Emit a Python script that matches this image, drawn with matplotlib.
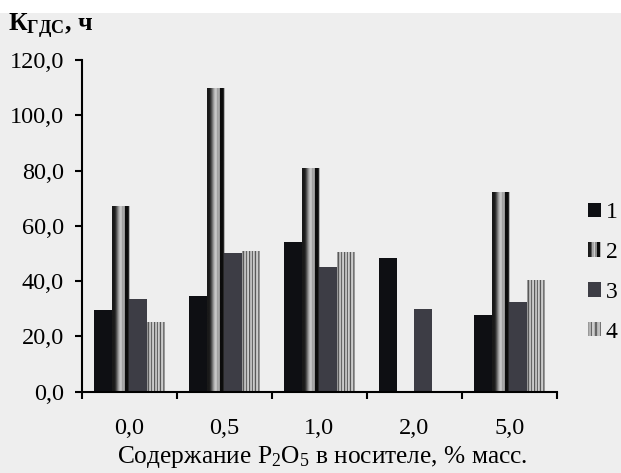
import numpy as np
import matplotlib
matplotlib.use("Agg")
import matplotlib.pyplot as plt
from matplotlib.patches import Rectangle
from matplotlib.legend_handler import HandlerBase
from matplotlib.ticker import FixedLocator, FuncFormatter

plt.rcParams['font.family'] = ['Liberation Serif', 'DejaVu Serif']
plt.rcParams['mathtext.fontset'] = 'custom'
plt.rcParams['mathtext.rm'] = 'Liberation Serif'
plt.rcParams['mathtext.it'] = 'Liberation Serif:italic'
plt.rcParams['mathtext.bf'] = 'Liberation Serif:bold'

# P2O5 content on the support, % wt.
categories = ["0,0", "0,5", "1,0", "2,0", "5,0"]
series_names = ["1", "2", "3", "4"]
s1 = [29.5, 34.6, 54.2, 48.2, 27.8]
s2 = [67.3, 109.7, 80.8, 0.0, 72.3]
s3 = [33.4, 50.0, 45.2, 29.9, 32.5]
s4 = [25.1, 51.0, 50.4, 0.0, 40.5]
series = [s1, s2, s3, s4]

# fill styles: plain colour or a vertical stripe profile (0 = black, 1 = white)
solid = {0: '#0e0f13', 2: '#3d3d45'}
stripes = {
    1: [0.10, 0.10, 0.12, 0.2, 0.35, 0.5, 0.65, 0.75, 0.8, 0.7, 0.55, 0.85,
        0.05, 0.05, 0.05, 0.1, 0.7],
    3: [0.6, 0.35, 0.7, 0.75, 0.4, 0.75, 0.8, 0.35, 0.7, 0.75, 0.4, 0.8,
        0.7, 0.35, 0.75, 0.8, 0.45, 0.6],
}

bg = '#eeeeee'
fig = plt.figure(figsize=(6.21, 4.73), dpi=100, facecolor=bg)
fig.patches.append(Rectangle((0, 1 - 13 / 473), 1, 13 / 473, transform=fig.transFigure,
                             facecolor='white', edgecolor='none', zorder=0))
ax = fig.add_axes([82 / 621, 1 - 391.7 / 473, (556.7 - 82) / 621, (391.7 - 60) / 473])
ax.set_facecolor(bg)

x = np.arange(len(categories))
w = 0.185
for i, vals in enumerate(series):
    pos = x + (i - 1.5) * w
    if i in solid:
        ax.bar(pos, vals, width=w, color=solid[i], edgecolor='none', zorder=2)
    else:
        bars = ax.bar(pos, vals, width=w, facecolor='none', edgecolor='none', zorder=2)
        prof = np.array(stripes[i])[None, :]
        for b in bars:
            if b.get_height() <= 0:
                continue
            im = ax.imshow(prof, cmap='gray', vmin=0, vmax=1, aspect='auto',
                           interpolation='bilinear', zorder=2,
                           extent=[b.get_x(), b.get_x() + b.get_width(), 0, b.get_height()])
            im.set_clip_path(b)

ax.set_xlim(-0.5, len(categories) - 0.5)
ax.set_ylim(0, 120)

for s in ['top', 'right']:
    ax.spines[s].set_visible(False)
for s in ['left', 'bottom']:
    ax.spines[s].set_linewidth(1.5)

ax.set_yticks(np.arange(0, 121, 20))
ax.yaxis.set_major_formatter(FuncFormatter(lambda v, p: f"{v:.1f}".replace('.', ',')))
ax.tick_params(axis='y', direction='out', length=5, width=1.5, pad=8, labelsize=17.5)

# ticks between the groups, labels under the groups
ax.xaxis.set_major_locator(FixedLocator(np.arange(-0.5, len(categories), 1.0)))
ax.xaxis.set_minor_locator(FixedLocator(x))
ax.set_xticklabels([], minor=False)
ax.set_xticklabels(categories, minor=True)
ax.tick_params(axis='x', which='major', direction='out', length=5, width=1.5)
ax.tick_params(axis='x', which='minor', length=0, pad=19, labelsize=17.5)

fig.text(8 / 621, 1 - 31 / 473, r'К$_{\mathbf{ГДС}}$, ч', fontsize=18.5,
         fontweight='bold', ha='left', va='baseline')
fig.text(322 / 621, 1 - 457 / 473, 'Содержание P$_2$O$_5$ в носителе, % масс.',
         fontsize=18.3, ha='center', va='center')


class StripeHandler(HandlerBase):
    def __init__(self, profile):
        super().__init__()
        self.profile = profile

    def create_artists(self, legend, orig_handle, xdescent, ydescent, width, height,
                       fontsize, trans):
        n = len(self.profile)
        out = []
        for k, v in enumerate(self.profile):
            c = plt.cm.gray(v)
            out.append(Rectangle((-xdescent + k * width / n, -ydescent), width / n, height,
                                 facecolor=c, edgecolor='none', transform=trans))
        return out


handles = []
hmap = {}
for i, name in enumerate(series_names):
    h = Rectangle((0, 0), 1, 1, facecolor=solid.get(i, 'gray'), edgecolor='none')
    handles.append(h)
    if i in stripes:
        hmap[h] = StripeHandler(stripes[i][::2])

fig.legend(handles, series_names, handler_map=hmap, loc='upper left',
           bbox_to_anchor=(588 / 621, 1 - 202 / 473), frameon=False, fontsize=17,
           handlelength=0.55, handleheight=0.55, handletextpad=0.2, labelspacing=0.8,
           borderpad=0, borderaxespad=0)

fig.savefig('out.png', dpi=100, facecolor=bg)
